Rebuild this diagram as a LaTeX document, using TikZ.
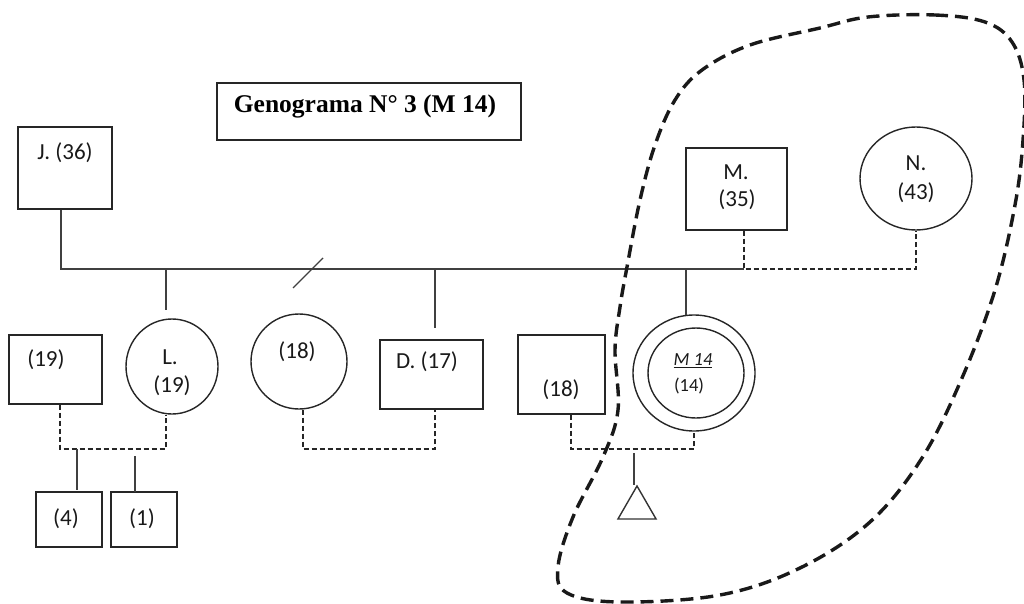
\documentclass[tikz,border=0pt]{standalone}
\usepackage{fontspec}
\setmainfont{Carlito}
\newfontfamily\titlefont{Liberation Serif}
\usetikzlibrary{shapes.geometric}
\begin{document}
\begin{tikzpicture}[x=1pt,y=-1pt,
  person/.style={draw=black!85,line width=1.4pt,inner sep=0pt},
  male/.style={person,rectangle},
  female/.style={person,ellipse},
  lbl/.style={inner sep=0pt,text=black!90,font=\fontsize{23}{26}\selectfont},
  small/.style={inner sep=0pt,text=black!90,font=\fontsize{18.5}{21}\selectfont},
  rel/.style={draw=black!75,line width=1.8pt},
  partner/.style={draw=black!85,line width=1.3pt,dash pattern=on 5pt off 3pt},
  border/.style={draw=black!90,line width=3.4pt,dash pattern=on 13pt off 7pt,line cap=butt}]
\useasboundingbox (0,0) rectangle (1024,604);

% title
\node[draw=black!85,line width=1.4pt,minimum width=304pt,minimum height=57pt,inner sep=0pt]
  (title) at (369,111.5) {};
\node[inner sep=0pt,font=\titlefont\bfseries\fontsize{25.5}{28}\selectfont] (titletext) at (365,106)
  {Genograma N° 3 (M 14)};

% first generation
\node[male,minimum width=94pt,minimum height=82pt] (J) at (65,168) {};
\node[lbl] (Jtxt) at (65,153) {J. (36)};
\node[male,minimum width=101pt,minimum height=82pt] (M) at (736.5,189) {};
\node[lbl] (Mtxt1) at (736,172) {M.};
\node[lbl] (Mtxt2) at (737,200) {(35)};
\node[female,minimum width=112pt,minimum height=103pt] (N) at (916,178.5) {};
\node[lbl] (Ntxt1) at (916,163) {N.};
\node[lbl] (Ntxt2) at (916,193) {(43)};

% second generation
\node[male,minimum width=93pt,minimum height=69pt] (P19) at (55.5,369.5) {};
\node[lbl] (P19txt) at (46,360) {(19)};
\node[female,minimum width=92pt,minimum height=95pt] (L) at (172,366.5) {};
\node[lbl] (Ltxt1) at (170,357) {L.};
\node[lbl] (Ltxt2) at (172,386) {(19)};
\node[female,minimum width=96pt,minimum height=95pt] (F18) at (299,361.5) {};
\node[lbl] (F18txt) at (297,352) {(18)};
\node[male,minimum width=103pt,minimum height=69pt] (D) at (431.5,374.5) {};
\node[lbl] (Dtxt) at (427,362) {D. (17)};
\node[male,minimum width=87pt,minimum height=79pt] (B18) at (561.5,374.5) {};
\node[lbl] (B18txt) at (561,390) {(18)};
\node[female,minimum width=122pt,minimum height=116pt] (IPo) at (694,373) {};
\node[female,minimum width=96pt,minimum height=90pt] (IPi) at (696,373) {};
\node[small] (IPtxt1) at (693,361) {\underline{\itshape M 14}};
\node[small] (IPtxt2) at (689,386) {(14)};

% third generation
\node[male,minimum width=66pt,minimum height=55pt] (C4) at (69,519.5) {};
\node[lbl] (C4txt) at (66,519) {(4)};
\node[male,minimum width=66pt,minimum height=55pt] (C1) at (144,519.5) {};
\node[lbl] (C1txt) at (142,519) {(1)};
\node[draw=black!80,line width=1.4pt,regular polygon,regular polygon sides=3,
  minimum size=44pt,inner sep=0pt] (preg) at (637,508) {};

% junction points
\coordinate (barL) at (61,269);
\coordinate (barR) at (744,269);
\coordinate (Ltop) at (166,310);
\coordinate (Dtop) at (435,328);
\coordinate (IPtop) at (686,315);
\coordinate (cplA) at (60,449);
\coordinate (cplB) at (303,449);
\coordinate (cplC) at (571,449);
\coordinate (k4) at (77,490);
\coordinate (k1a) at (135,456);
\coordinate (k1b) at (135,492);
\coordinate (kpa) at (634,453);
\coordinate (kpb) at (634,485);
\coordinate (cutA) at (293,288);
\coordinate (cutB) at (323,258);

% family line of J.
\draw[rel] (J.south -| barL) -- (barL) -- (barR);
\draw[rel] (Ltop |- barL) -- (Ltop);
\draw[rel] (Dtop |- barL) -- (Dtop);
\draw[rel] (IPtop |- barL) -- (IPtop);
\draw[rel,line width=1.4pt] (cutA) -- (cutB);

% M. and N.
\draw[partner] (M.south -| barR) -- (barR) -- (barR -| N.south) -- (N.south);

% partnerships in the second generation
\draw[partner] (P19.south -| cplA) -- (cplA) -- (cplA -| Ltop) -- (L.south -| Ltop);
\draw[rel,line width=1.5pt] (k4 |- cplA) -- (k4);
\draw[rel,line width=1.5pt] (k1a) -- (k1b);
\draw[partner] (F18.south -| cplB) -- (cplB) -- (cplB -| Dtop) -- (D.south -| Dtop);
\draw[partner] (B18.south -| cplC) -- (cplC) -- (cplC -| IPo.south) -- (IPo.south);
\draw[rel,line width=1.5pt] (kpa) -- (kpb);

% boundary drawn round the household
\draw[border] plot[smooth cycle,tension=0.6] coordinates {
  (868,17) (935,15) (985,22) (1012,42) (1024,80) (1023,140) (1015,205)
  (995,290) (962,378) (922,458) (870,522) (800,568) (720,595)
  (620,602) (567,593) (558,567) (573,517) (603,457) (618,410) (615,350)
  (620,307) (627,267) (640,200) (655,145) (675,100) (702,70) (750,45) (820,28)};
\end{tikzpicture}
\end{document}
